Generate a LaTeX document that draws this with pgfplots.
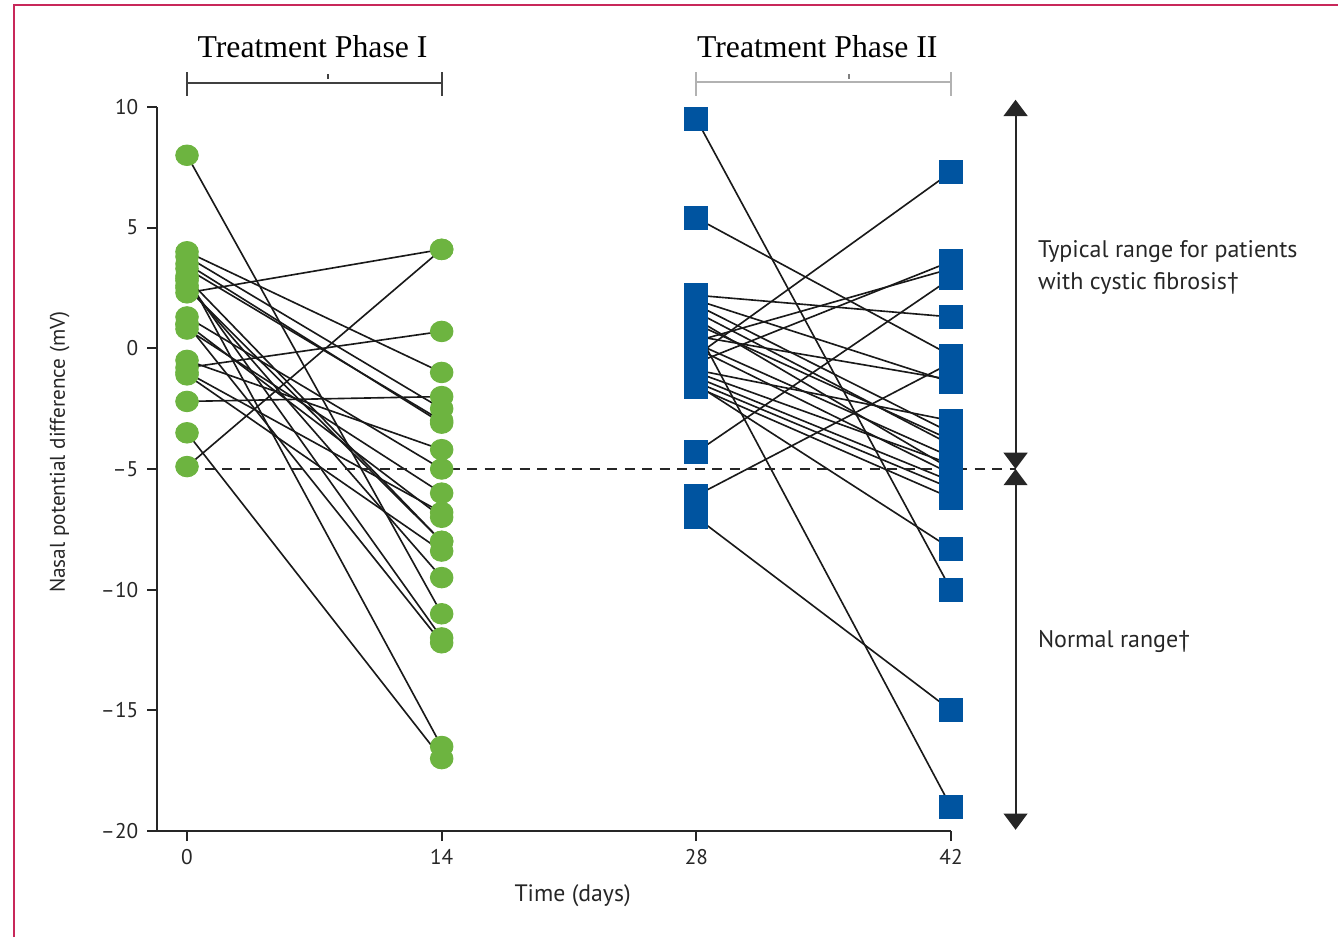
\documentclass[border=0pt]{standalone}
\usepackage{pgfplots}
\pgfplotsset{compat=1.18}
\usepackage{pgfplotstable}
\usepackage{fontspec}
\setmainfont{Liberation Serif}
\newfontfamily\sansf{PT Sans}
\usetikzlibrary{arrows.meta}
\definecolor{ptgreen}{RGB}{109,180,64}
\definecolor{ptblue}{RGB}{0,84,160}
\definecolor{framecol}{RGB}{200,40,90}

% Phase I: day 0 (a) -> day 14 (b)
\pgfplotstableread{
a b
8.0 -11.0
4.0 -1.0
3.8 -2.5
3.5 -3.1
3.3 -3.0
3.0 -16.5
2.9 -8.0
2.8 -12.0
2.6 -9.5
2.5 -8.0
2.3 4.1
1.3 -5.0
1.0 -7.0
1.0 -12.2
0.8 -6.0
-0.5 -4.2
-0.8 0.7
-1.0 -6.8
-1.1 -8.4
-2.2 -2.0
-3.5 -17.0
-4.9 4.1
}\phaseone

% Phase II: day 28 (c) -> day 42 (d)
\pgfplotstableread{
c d
9.5 -10.0
5.4 -0.3
2.2 1.3
2.0 -1.4
1.8 -3.5
1.5 -4.0
1.2 -5.0
1.0 -3.8
0.8 -19.0
0.5 -1.3
0.3 3.3
0.2 -4.5
0.0 -5.2
-0.3 7.3
-0.6 3.6
-0.9 -3.0
-1.0 -4.8
-1.2 -5.5
-1.4 -5.8
-1.5 -8.3
-1.6 -6.2
-4.3 2.9
-6.1 -0.6
-7.0 -15.0
}\phasetwo

\begin{document}
\begin{tikzpicture}
\useasboundingbox (0,0) rectangle (535.2pt,374.8pt);
\draw[framecol, line width=1pt] (5.6pt,0) -- (5.6pt,372.8pt) -- (536pt,372.8pt);
\begin{axis}[
  at={(62.8pt,42.4pt)}, anchor=south west,
  scale only axis, width=317.6pt, height=289.6pt,
  xmin=-1.65, xmax=42, ymin=-20, ymax=10,
  axis x line*=bottom, axis y line*=left,
  clip=false,
  xtick={0,14,28,42}, xticklabels={0,14,28,42},
  ytick={-20,-15,-10,-5,0,5,10},
  yticklabels={\textendash20,\textendash15,\textendash10,\textendash5,0,5,10},
  tick align=outside, major tick length=4pt,
  axis line style={line width=0.8pt, black!85},
  tick style={line width=0.8pt, black!85},
  ticklabel style={font=\sansf\fontsize{8.5}{10}\selectfont, text=black!85},
]
% patient lines
\addplot[black!90, line width=0.65pt, quiver={u=14, v=\thisrow{b}-\thisrow{a}}] table[x expr=0, y=a] {\phaseone};
\addplot[black!90, line width=0.65pt, quiver={u=14, v=\thisrow{d}-\thisrow{c}}] table[x expr=28, y=c] {\phasetwo};
% markers
\addplot[only marks, mark=*, mark size=4.1pt, mark options={xscale=1.1}, color=ptgreen] table[x expr=0, y=a] {\phaseone};
\addplot[only marks, mark=*, mark size=4.1pt, mark options={xscale=1.1}, color=ptgreen] table[x expr=14, y=b] {\phaseone};
\addplot[only marks, mark=square*, mark size=4.6pt, color=ptblue] table[x expr=28, y=c] {\phasetwo};
\addplot[only marks, mark=square*, mark size=4.6pt, color=ptblue] table[x expr=42, y=d] {\phasetwo};
% dashed threshold
\draw[black!85, line width=0.8pt, dash pattern=on 4pt off 3pt] (axis cs:0,-5) -- (axis cs:45.55,-5);
% range arrows
\draw[black!85, line width=0.8pt, {Triangle[width=9.5pt,length=6.5pt]}-{Triangle[width=9.5pt,length=6.5pt]}] (axis cs:45.55,10.3) -- (axis cs:45.55,-5);
\draw[black!85, line width=0.8pt, {Triangle[width=9.5pt,length=6.5pt]}-{Triangle[width=9.5pt,length=6.5pt]}] (axis cs:45.55,-5) -- (axis cs:45.55,-19.95);
% brackets
\draw[black!75, line width=0.8pt] (axis cs:0,10.46) -- (axis cs:0,11.45) (axis cs:0,11) -- (axis cs:14,11) (axis cs:14,10.46) -- (axis cs:14,11.45);
\draw[black!75, line width=0.6pt] (axis cs:7.76,11.15) -- (axis cs:7.76,11.35);
\draw[black!30, line width=0.8pt] (axis cs:28,10.46) -- (axis cs:28,11.45) (axis cs:28,11.03) -- (axis cs:42,11.03) (axis cs:42,10.46) -- (axis cs:42,11.45);
\draw[black!50, line width=0.6pt] (axis cs:36.4,11.18) -- (axis cs:36.4,11.38);
% texts
\node[font=\fontsize{12.7}{15}\selectfont] at (axis cs:6.9,12.49) {Treatment Phase I};
\node[font=\fontsize{12.7}{15}\selectfont] at (axis cs:34.65,12.49) {Treatment Phase II};
\node[anchor=west, align=left, font=\sansf\fontsize{9.6}{13}\selectfont, text=black!85] at (axis cs:46.3,3.35) {Typical range for patients\\with cystic fibrosis\textdagger};
\node[anchor=west, font=\sansf\fontsize{9.6}{13}\selectfont, text=black!85] at (axis cs:46.3,-12.13) {Normal range\textdagger};
\node[rotate=90, font=\sansf\fontsize{8.5}{10}\selectfont, text=black!85] at (axis cs:-7.0,-4.3) {Nasal potential difference (mV)};
\node[font=\sansf\fontsize{9.5}{11}\selectfont, text=black!85] at (axis cs:21.2,-22.66) {Time (days)};
\end{axis}
\end{tikzpicture}
\end{document}
